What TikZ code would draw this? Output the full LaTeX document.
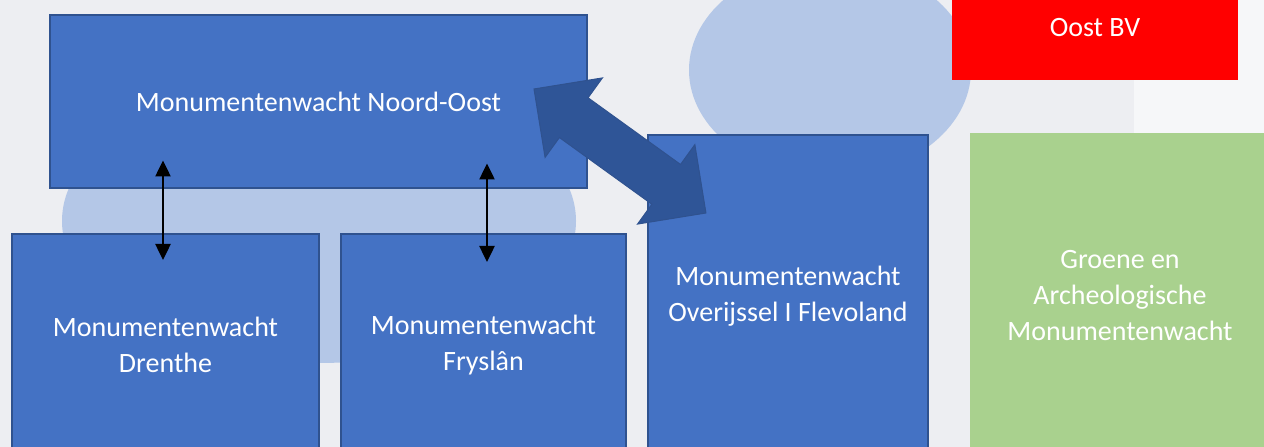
\documentclass[tikz,border=0pt]{standalone}
\usepackage{fontspec}
\setmainfont{Carlito}
\usetikzlibrary{arrows.meta,calc}
\definecolor{paper}{HTML}{EDEEF2}
\definecolor{paperlight}{HTML}{F6F7F9}
\definecolor{cloud}{HTML}{B4C7E7}
\definecolor{boxblue}{HTML}{4472C4}
\definecolor{boxedge}{HTML}{2F528F}
\definecolor{darkblue}{HTML}{2F5597}
\definecolor{groen}{HTML}{A9D18E}
\begin{document}
\begin{tikzpicture}[x=1pt,y=1pt,
    txt/.style={text=white,align=center,font=\fontsize{28}{36}\selectfont,inner sep=0pt},
    box/.style={txt,draw=boxedge,line width=2pt,fill=boxblue},
    link/.style={{Triangle[length=16pt,width=15pt]}-{Triangle[length=16pt,width=15pt]},line width=2.5pt}]
  \clip (0,0) rectangle (1264,447);
  \fill[paper] (0,0) rectangle (1264,447);
  \fill[paperlight] (1134,312) rectangle (1264,447);
  \fill[cloud] (319,226) ellipse [x radius=257pt, y radius=142pt];
  \fill[cloud] (830,377) ellipse [x radius=141pt, y radius=107pt];
  \node[box,minimum width=537pt,minimum height=173pt] (noord) at (318.5,345.5) {Monumentenwacht Noord-Oost};
  \node[box,minimum width=307pt,minimum height=222pt] (drenthe) at (165.5,102) {Monumentenwacht\\Drenthe};
  \node[box,minimum width=285pt,minimum height=222pt] (fryslan) at (483.5,102) {Monumentenwacht\\Fryslân};
  \node[box,minimum width=280pt,minimum height=322pt] (overijssel) at (788,151) {Monumentenwacht\\Overijssel I Flevoland};
  \node[txt,fill=groen,minimum width=300pt,minimum height=326pt] (groene) at (1120,151) {Groene en\\Archeologische\\Monumentenwacht};
  \node[fill=red,minimum width=286pt,minimum height=142pt,inner sep=0pt] (oost) at (1095,438) {};
  \node[txt] (oostbv) at ($(oost.south)+(0,53)$) {Oost BV};
  \draw[link] ($(noord.south -| drenthe.north)+(-2.5,28.5)$) -- ($(drenthe.north)+(-2.5,-27)$);
  \draw[link] ($(noord.south -| fryslan.north)+(3.5,25.5)$) -- ($(fryslan.north)+(3.5,-29)$);
  \begin{scope}[shift={($(noord.east)+(-54,12.5)$)},rotate=-35.8]
    \draw[fill=darkblue,draw=boxedge,line width=1pt,line join=miter]
      (0,0) -- (49,49) -- (49,24.5) -- (163,24.5) -- (163,49) -- (212,0)
      -- (163,-49) -- (163,-24.5) -- (49,-24.5) -- (49,-49) -- cycle;
  \end{scope}
\end{tikzpicture}
\end{document}
